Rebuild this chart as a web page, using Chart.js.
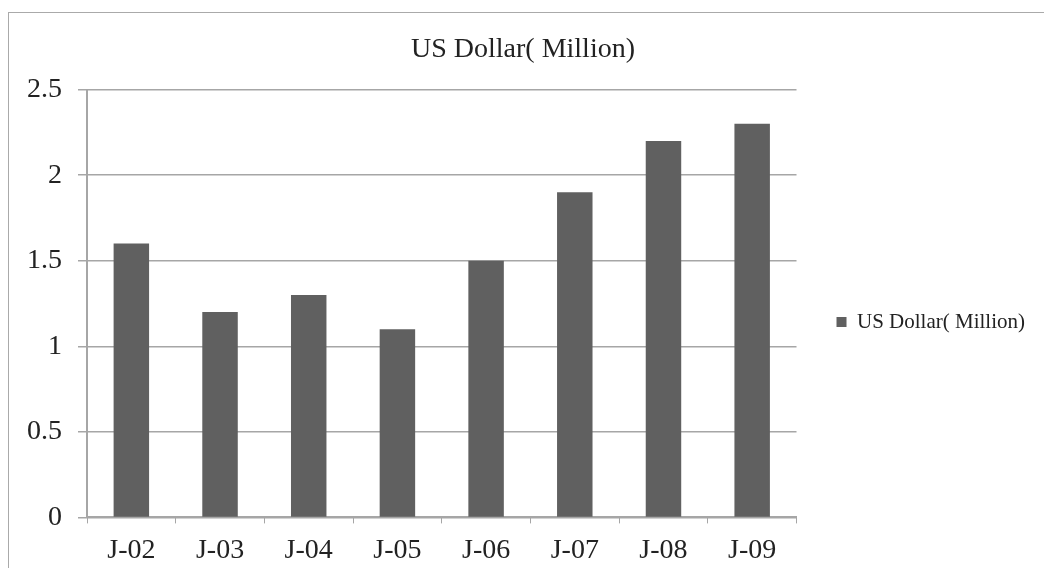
<!DOCTYPE html>
<html>
<head>
<meta charset="utf-8">
<script src="https://cdn.jsdelivr.net/npm/chart.js@4.4.0/dist/chart.umd.min.js"></script>
<style>
    html, body { margin: 0; padding: 0; background: #fff; overflow: hidden; }
    #frame {
        position: absolute; left: 8px; top: 12px; width: 1036px; height: 565px;
        border-left: 1px solid #aaa; border-top: 1px solid #aaa; box-sizing: border-box;
    }
    #frame canvas { display: block; }
</style>
</head>
<body>
<div id="frame"><canvas id="usdChart"></canvas></div>
<script>
var months = ['J-02', 'J-03', 'J-04', 'J-05', 'J-06', 'J-07', 'J-08', 'J-09'];
var usdValues = [1.6, 1.2, 1.3, 1.1, 1.5, 1.9, 2.2, 2.3];
var seriesName = 'US Dollar( Million)';

var serif = "'Liberation Serif', 'DejaVu Serif', serif";
var grey = '#a6a6a6';

new Chart(document.getElementById('usdChart'), {
    type: 'bar',
    data: {
        labels: months,
        datasets: [{
            label: seriesName,
            data: usdValues,
            backgroundColor: '#606060',
            borderWidth: 0,
            barPercentage: 0.4,
            categoryPercentage: 1
        }]
    },
    options: {
        responsive: true,
        maintainAspectRatio: false,
        animation: false,
        layout: {
            padding: { left: 2, right: 9, top: 0, bottom: 0 }
        },
        plugins: {
            title: {
                display: true,
                text: seriesName,
                color: '#222',
                font: { family: serif, size: 28, weight: 'normal' },
                padding: { top: 20, bottom: 23 }
            },
            legend: {
                position: 'right',
                maxWidth: 248,
                // empty title only pushes the legend item down a little
                title: {
                    display: true,
                    text: ' ',
                    font: { size: 10, lineHeight: 1.2 },
                    padding: { top: 21, bottom: 21 }
                },
                labels: {
                    color: '#222',
                    boxWidth: 10,
                    boxHeight: 10,
                    padding: 40,
                    font: { family: serif, size: 21 }
                }
            },
            tooltip: { enabled: false }
        },
        scales: {
            x: {
                offset: true,
                grid: {
                    offset: true,
                    drawOnChartArea: false,
                    drawTicks: true,
                    tickLength: 6,
                    color: grey
                },
                border: { color: grey, width: 2 },
                ticks: {
                    color: '#222',
                    padding: 10,
                    font: { family: serif, size: 28 }
                }
            },
            y: {
                min: 0,
                max: 2.5,
                ticks: {
                    stepSize: 0.5,
                    color: '#222',
                    padding: 16,
                    font: { family: serif, size: 28 },
                    callback: function (v) { return String(v); }
                },
                grid: {
                    color: grey,
                    lineWidth: 1.5,
                    tickLength: 9
                },
                border: { color: grey, width: 2 }
            }
        }
    }
});
</script>
</body>
</html>
